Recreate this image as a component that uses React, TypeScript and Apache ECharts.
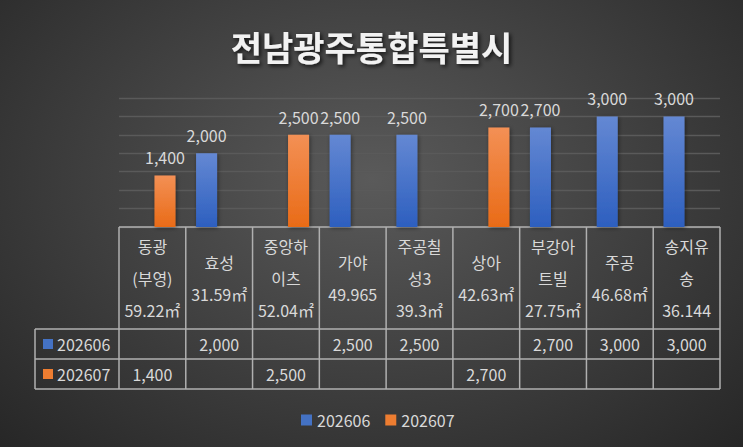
import React, { useEffect, useRef } from 'react';
import * as echarts from 'echarts';

const chartTitle = '전남광주통합특별시';
const categories = [
  '동광\n(부영)\n59.22㎡',
  '효성\n31.59㎡',
  '중앙하\n이츠\n52.04㎡',
  '가야\n49.965',
  '주공칠\n성3\n39.3㎡',
  '상아\n42.63㎡',
  '부강아\n트빌\n27.75㎡',
  '주공\n46.68㎡',
  '송지유\n송\n36.144',
];
const seriesNames = ['202606', '202607'];
const values202606: (number | null)[] = [null, 2000, null, 2500, 2500, null, 2700, 3000, 3000];
const values202607: (number | null)[] = [1400, null, 2500, null, null, 2700, null, null, null];
const yMax = 3500;
const yStep = 500;

const FONT = '"Noto Sans CJK KR", "Noto Sans", sans-serif';
const TEXT = '#d9d9d9';
const BLUE = '#4472c4';
const ORANGE = '#ed7d31';
const TABLE_LINE = '#b0b0b0';

function fmtInt(v: unknown): string {
  const n = Number(v);
  if (!Number.isFinite(n)) return '';
  return String(Math.round(n)).replace(/\B(?=(\d{3})+(?!\d))/g, ',');
}

function vGrad(top: string, bottom: string) {
  return new echarts.graphic.LinearGradient(0, 0, 0, 1, [
    { offset: 0, color: top },
    { offset: 1, color: bottom },
  ]);
}

export default function App() {
  const elRef = useRef<HTMLDivElement | null>(null);

  useEffect(() => {
    document.body.style.margin = '0';
    if (!elRef.current) return;
    const chart = echarts.init(elRef.current, null, { renderer: 'svg' });

    const labelStyle = {
      show: true,
      position: 'top' as const,
      distance: 10,
      color: TEXT,
      fontSize: 16,
      fontFamily: FONT,
      formatter: (p: any) => fmtInt(p.value),
    };
    const barShadow = { shadowBlur: 4, shadowColor: 'rgba(0,0,0,0.45)', shadowOffsetX: 1, shadowOffsetY: 1 };

    chart.setOption({
      animation: false,
      backgroundColor: 'transparent',
      title: {
        text: chartTitle,
        left: 'center',
        top: 24,
        textStyle: {
          color: '#f2f2f2',
          fontSize: 34,
          fontWeight: 'bold',
          fontFamily: FONT,
          textShadowColor: 'rgba(0,0,0,0.75)',
          textShadowBlur: 4,
          textShadowOffsetX: 2,
          textShadowOffsetY: 2,
        },
      },
      legend: {
        left: 296,
        top: 407,
        icon: 'rect',
        itemWidth: 11,
        itemHeight: 11,
        itemGap: 15,
        textStyle: { color: TEXT, fontSize: 16, fontFamily: FONT },
        data: [
          { name: seriesNames[0], itemStyle: { color: BLUE } },
          { name: seriesNames[1], itemStyle: { color: ORANGE } },
        ],
      },
      grid: { left: 119, right: 23, top: 98, bottom: 220 },
      xAxis: {
        type: 'category',
        data: categories,
        axisLine: { show: false },
        axisTick: { show: false },
        axisLabel: {
          interval: 0,
          color: TEXT,
          fontSize: 16,
          fontFamily: FONT,
          lineHeight: 32,
          verticalAlign: 'middle',
          margin: 51,
        },
      },
      yAxis: {
        type: 'value',
        min: 0,
        max: yMax,
        interval: yStep,
        axisLabel: { show: false },
        axisLine: { show: false },
        axisTick: { show: false },
        splitLine: { lineStyle: { color: '#5a5a5a', width: 1.3 } },
      },
      series: [
        {
          name: seriesNames[0],
          type: 'bar',
          data: values202606,
          barWidth: 21,
          barGap: '20%',
          itemStyle: { color: vGrad('#6488d3', '#2d5fbf'), ...barShadow },
          label: labelStyle,
        },
        {
          name: seriesNames[1],
          type: 'bar',
          data: values202607,
          barWidth: 21,
          barGap: '20%',
          itemStyle: { color: vGrad('#f39055', '#e96b17'), ...barShadow },
          label: labelStyle,
        },
      ],
    });

    // data table under the plot, laid out from the category axis
    const c0 = chart.convertToPixel({ xAxisIndex: 0 }, 0) as number;
    const c1 = chart.convertToPixel({ xAxisIndex: 0 }, 1) as number;
    const baseY = chart.convertToPixel({ yAxisIndex: 0 }, 0) as number;
    const bandW = c1 - c0;
    const left = c0 - bandW / 2;
    const right = left + categories.length * bandW;
    const labelLeft = 35;
    const headerBottom = baseY + 102;
    const rowH = 30;
    const rowsBottom = headerBottom + rowH * seriesNames.length;

    const lineStyle = { stroke: TABLE_LINE, lineWidth: 1.5 };
    const elements: any[] = [];
    const hline = (x1: number, x2: number, y: number) =>
      elements.push({ type: 'line', shape: { x1, y1: y, x2, y2: y }, style: lineStyle, silent: true });
    const vline = (x: number, y1: number, y2: number) =>
      elements.push({ type: 'line', shape: { x1: x, y1, x2: x, y2 }, style: lineStyle, silent: true });

    hline(left, right, baseY);
    for (let r = 0; r <= seriesNames.length; r++) hline(labelLeft, right, headerBottom + r * rowH);
    vline(labelLeft, headerBottom, rowsBottom);
    for (let k = 0; k <= categories.length; k++) vline(left + k * bandW, baseY, rowsBottom);

    const rows = [values202606, values202607];
    const rowColors = [BLUE, ORANGE];
    rows.forEach((vals, r) => {
      const cy = headerBottom + r * rowH + rowH / 2;
      elements.push({
        type: 'rect',
        shape: { x: labelLeft + 8, y: cy - 5, width: 10, height: 10 },
        style: { fill: rowColors[r] },
        silent: true,
      });
      elements.push({
        type: 'text',
        x: labelLeft + 22,
        y: cy,
        style: { text: seriesNames[r], fill: TEXT, fontSize: 16, fontFamily: FONT, verticalAlign: 'middle' },
        silent: true,
      });
      vals.forEach((v, i) => {
        if (v == null) return;
        elements.push({
          type: 'text',
          x: c0 + i * bandW,
          y: cy,
          style: {
            text: fmtInt(v),
            fill: TEXT,
            fontSize: 16,
            fontFamily: FONT,
            align: 'center',
            verticalAlign: 'middle',
          },
          silent: true,
        });
      });
    });

    chart.setOption({ graphic: { elements } });

    return () => chart.dispose();
  }, []);

  return (
    <div
      ref={elRef}
      style={{
        width: 743,
        height: 447,
        background: 'radial-gradient(ellipse 72% 85% at 50% 40%, #5a5a5a 0%, #262626 100%)',
      }}
    />
  );
}
